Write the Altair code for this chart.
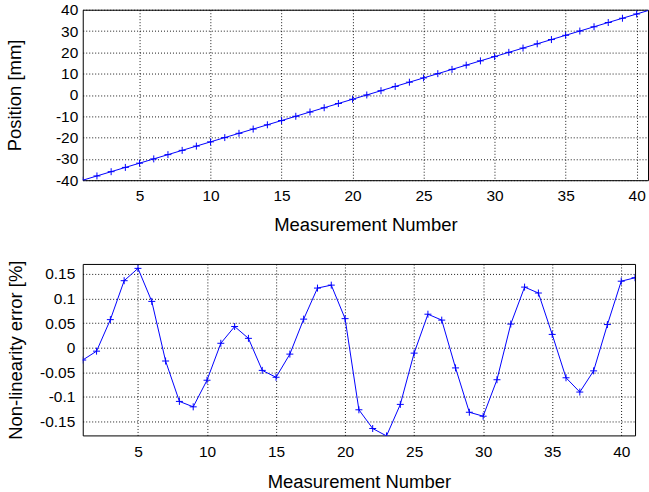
import altair as alt
import pandas as pd

measurement = [1, 2, 3, 4, 5, 6, 7, 8, 9, 10, 11, 12, 13, 14, 15, 16, 17, 18, 19, 20,
               21, 22, 23, 24, 25, 26, 27, 28, 29, 30, 31, 32, 33, 34, 35, 36, 37, 38, 39, 40, 41]
position_mm = [-40, -38, -36, -34, -32, -30, -28, -26, -24, -22, -20, -18, -16, -14, -12,
               -10, -8, -6, -4, -2, 0, 2, 4, 6, 8, 10, 12, 14, 16, 18, 20, 22, 24, 26, 28,
               30, 32, 34, 36, 38, 40]
nonlin_pct = [-0.025, -0.007, 0.057, 0.136, 0.161, 0.094, -0.027, -0.109, -0.120, -0.066,
              0.009, 0.043, 0.019, -0.046, -0.060, -0.013, 0.058, 0.121, 0.127, 0.059,
              -0.126, -0.164, -0.179, -0.115, -0.011, 0.068, 0.056, -0.041, -0.131, -0.139,
              -0.065, 0.048, 0.123, 0.111, 0.027, -0.061, -0.090, -0.047, 0.047, 0.135, 0.142]

x_ticks = [5, 10, 15, 20, 25, 30, 35, 40]
pos_ticks = [-40, -30, -20, -10, 0, 10, 20, 30, 40]
err_ticks = [-0.15, -0.1, -0.05, 0, 0.05, 0.1, 0.15]

df = pd.DataFrame({"m": measurement, "pos": position_mm, "err": nonlin_pct})

BLUE = "#0000ff"
PLUS = "M-1,0L1,0M0,-1L0,1"
FONT = "Liberation Sans"


def xaxis(pad_label, pad_title):
    return alt.Axis(values=x_ticks, title="Measurement Number", grid=True, ticks=False,
                    tickSize=0, domain=False, labelPadding=pad_label, titlePadding=pad_title,
                    labelExpr="'' + datum.value")


def yaxis(title, values, pad_label, pad_title):
    return alt.Axis(values=values, title=title, grid=True, ticks=False, tickSize=0,
                    domain=False, labelPadding=pad_label, titlePadding=pad_title,
                    labelExpr="'' + datum.value")


def panel(ycol, ytitle, ydomain, yvalues, width, height, xdomain, lp_y, tp_y, lp_x, tp_x):
    base = alt.Chart(df).encode(
        x=alt.X("m:Q", scale=alt.Scale(domain=xdomain, nice=False, zero=False),
                axis=xaxis(lp_x, tp_x)),
        y=alt.Y(f"{ycol}:Q", scale=alt.Scale(domain=ydomain, nice=False, zero=False),
                axis=yaxis(ytitle, yvalues, lp_y, tp_y)),
    )
    line = base.mark_line(color=BLUE, strokeWidth=1, clip=True)
    pts = base.mark_point(shape=PLUS, filled=False, color=BLUE, size=49, strokeWidth=1,
                          opacity=1, clip=True)
    return (line + pts).properties(width=width, height=height)


top = panel("pos", "Position [mm]", [-40, 40], pos_ticks, 567, 171, [1, 40.8], 5, 31, 8, 12)
bottom = panel("err", "Non-linearity error [%]", [-0.178, 0.17], err_ticks, 554, 172, [1, 41],
               8, 14, 9, 13)

chart = alt.vconcat(top, bottom, spacing=84, bounds="flush").properties(
    padding={"left": 5, "top": 1, "right": 0, "bottom": 0},
    background="white",
).configure_view(
    stroke="black", strokeWidth=1
).configure_axis(
    labelFont=FONT, titleFont=FONT, labelFontSize=15.5, titleFontSize=18.5,
    labelColor="black", titleColor="black", titleFontWeight="normal",
    gridColor="black", gridDash=[1, 2], gridOpacity=0.9, gridWidth=1,
)

chart.save("out.html", embed_options={"renderer": "svg", "actions": False})
